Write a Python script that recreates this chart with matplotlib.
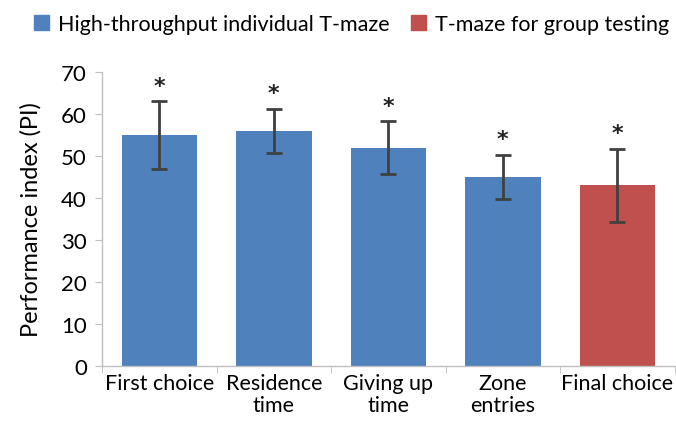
import matplotlib.pyplot as plt
from matplotlib.patches import Patch
import numpy as np

plt.rcParams['font.family'] = ['Lato', 'DejaVu Sans']

# Data
categories = ["First choice", "Residence\ntime", "Giving up\ntime", "Zone\nentries", "Final choice"]
pi_values = [55, 56, 52, 45, 43]
pi_errors = [8.0, 5.2, 6.3, 5.3, 8.7]
groups = ["individual", "individual", "individual", "individual", "group"]
legend_labels = ["High-throughput individual T-maze", "T-maze for group testing"]

blue = "#4f81bd"
red = "#c0504d"
colors = [blue if g == "individual" else red for g in groups]

fig = plt.figure(figsize=(6.76, 4.39), dpi=100)
ax = fig.add_axes([0.151, 0.164, 0.847, 0.670])

x = np.arange(len(categories))
ax.bar(x, pi_values, width=0.66, color=colors, zorder=2)
ax.errorbar(x, pi_values, yerr=pi_errors, fmt='none', ecolor='#404040',
            elinewidth=2, capsize=6, capthick=2, zorder=3)

# significance stars
for xi, v, e in zip(x, pi_values, pi_errors):
    ax.text(xi, v + e + 1.3, "*", ha='center', va='bottom', fontsize=16,
            fontweight='bold', family='DejaVu Sans', color='#222222')

ax.set_xlim(-0.5, len(categories) - 0.5)
ax.set_ylim(0, 70)
ax.set_yticks(range(0, 71, 10))
ax.set_xticks(x)
ax.set_xticklabels(categories, fontsize=15.5, linespacing=1.15)
ax.set_xticks(np.arange(-0.5, len(categories), 1), minor=True)
ax.tick_params(axis='x', which='major', length=0, pad=5)
ax.tick_params(axis='x', which='minor', length=5, color='#bfbfbf')
ax.tick_params(axis='y', labelsize=16, length=5, color='#bfbfbf', pad=6)
ax.set_ylabel("Performance index (PI)", fontsize=17, labelpad=14)

for s in ['top', 'right']:
    ax.spines[s].set_visible(False)
for s in ['left', 'bottom']:
    ax.spines[s].set_color('#bfbfbf')
    ax.spines[s].set_linewidth(1)

handles = [Patch(color=blue), Patch(color=red)]
fig.legend(handles, legend_labels, loc='upper center', bbox_to_anchor=(0.52, 1.01),
           ncol=2, frameon=False, fontsize=15.5, handlelength=0.7, handleheight=0.7,
           handletextpad=0.4, columnspacing=1.0)

fig.savefig("out.png", dpi=100)
